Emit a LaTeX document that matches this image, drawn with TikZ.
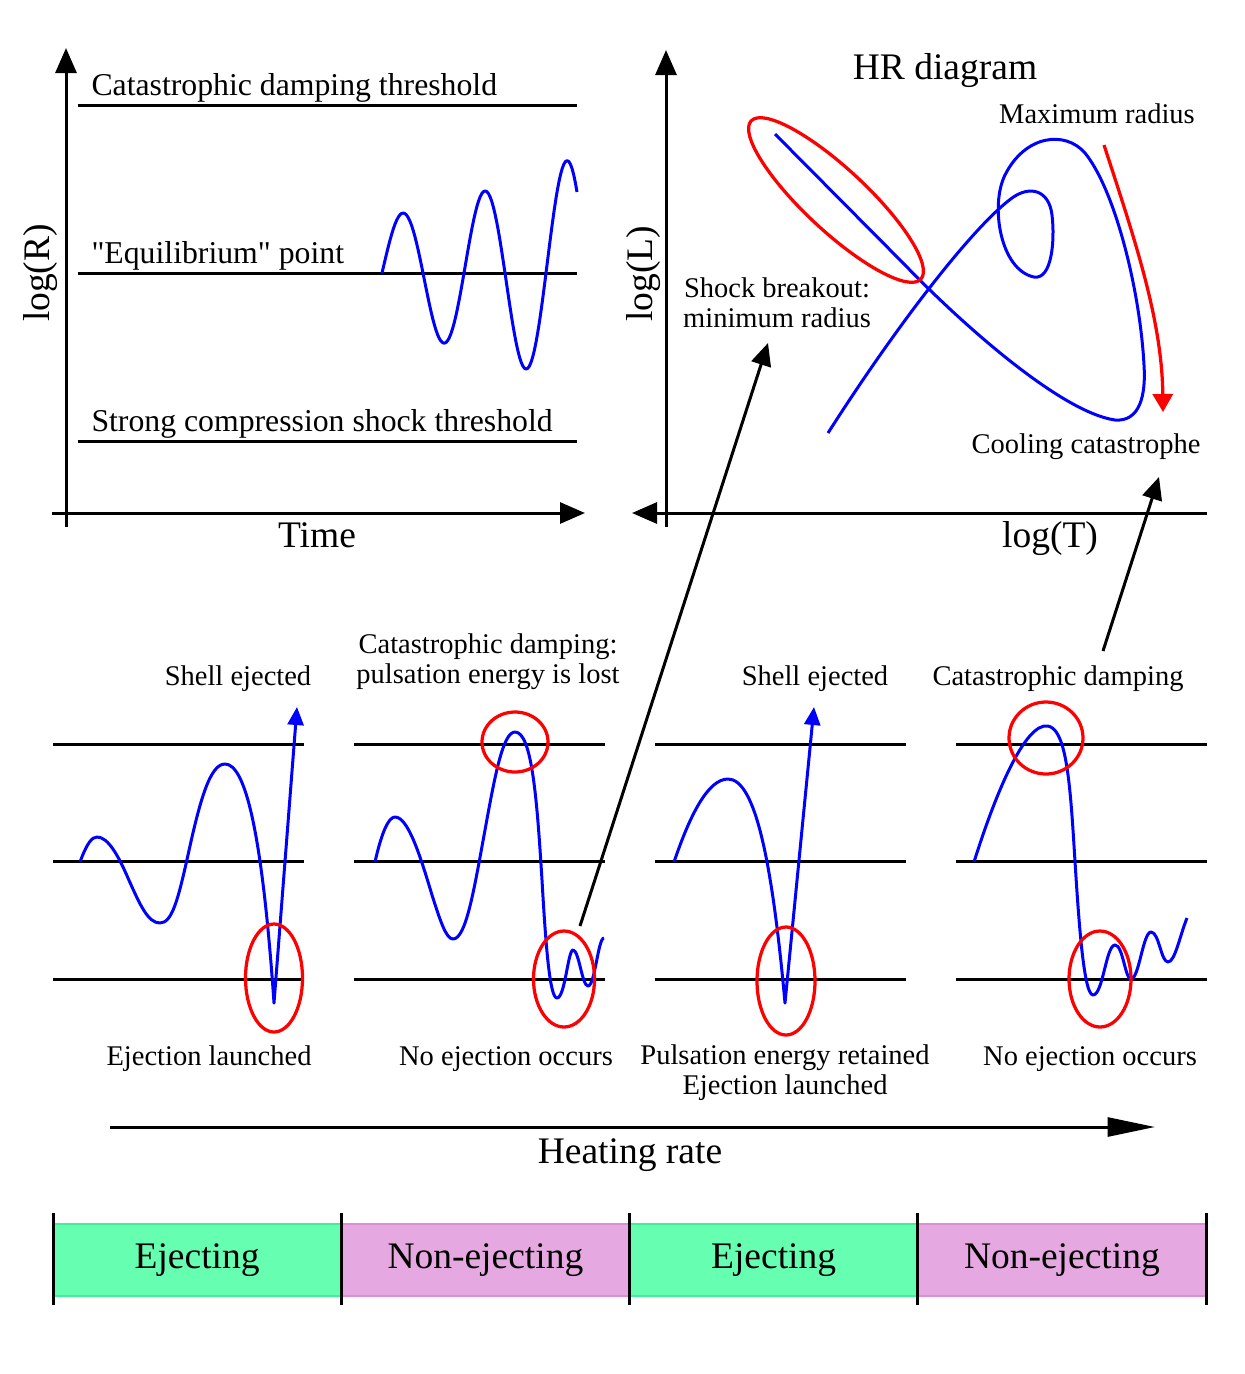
\documentclass[tikz,border=0pt]{standalone}
\usepackage{fontspec}
\setmainfont{Liberation Serif}
\usepackage{tikz}
\usetikzlibrary{shapes, arrows.meta, calc, positioning}

\definecolor{ejgreen}{RGB}{102,255,178}
\definecolor{ejgreenline}{RGB}{64,240,150}
\definecolor{nonpink}{RGB}{230,168,224}
\definecolor{nonpinkline}{RGB}{222,140,214}

\begin{document}
\begin{tikzpicture}[x=0.4pt,y=-0.4pt,line width=1.2pt]
    \tikzstyle{axis}=[-{Triangle[length=10pt,width=8.4pt]}]
    \tikzstyle{wave}=[blue,line join=round]
    \tikzstyle{shot}=[blue,line join=round,-{Triangle[length=7.2pt,width=6.4pt]}]
    \tikzstyle{ring}=[red,line width=1.3pt]
    \tikzstyle{link}=[-{Triangle[length=9pt,width=8pt]}]
    \tikzstyle{lbl}=[inner sep=0pt,align=center,anchor=base,font=\fontsize{11.4}{11.8}\selectfont]
    \tikzstyle{midlbl}=[inner sep=0pt,anchor=base west,font=\fontsize{12.7}{15}\selectfont]
    \tikzstyle{biglbl}=[inner sep=0pt,anchor=base,font=\fontsize{15}{18}\selectfont]
    \tikzstyle{cell}=[minimum width=115.3pt,minimum height=28.8pt,line width=0.8pt,font=\fontsize{15}{18}\selectfont]

    \useasboundingbox (0,0) rectangle (1245,1374);

    % log(R) against time
    \draw[axis] (66,527) -- (66,48);
    \draw[axis] (52,513) -- (585,513);
    \foreach \ly in {105,273,441}
        \draw (78,\ly) -- (577,\ly);
    \node[midlbl] (catthr) at (90,95) {Catastrophic damping threshold};
    \node[midlbl] (eqpt) at (90,263) {\textquotedbl Equilibrium\textquotedbl{} point};
    \node[midlbl] (shockthr) at (90,431) {Strong compression shock threshold};
    \node[biglbl] (timelbl) at (317,547) {Time};
    \node[biglbl,rotate=90] (logr) at (49,273) {log(R)};
    \draw[wave] plot[domain=382:577,samples=120]
        (\x,{273-60*exp(0.00383*(\x-403))*sin(4.39024*(\x-382))});

    % HR diagram
    \draw[axis] (666,527) -- (666,50);
    \draw[axis] (1207,513) -- (632,513);
    \node[biglbl] (hrtitle) at (945,79) {HR diagram};
    \node[biglbl] (logt) at (1050,547) {log(T)};
    \node[biglbl,rotate=90] (logl) at (652,274) {log(L)};
    \node[lbl] (maxrad) at (1097,123) {Maximum radius};
    \node[lbl] (shockbo) at (777,327) {Shock breakout:\\minimum radius};
    \node[lbl] (coolcat) at (1086,453) {Cooling catastrophe};
    \draw[wave] (775,134) -- (905,265)
        .. controls (960,322) and (1060,412) .. (1115,420)
        .. controls (1140,422) and (1146,395) .. (1144,365)
        .. controls (1140,290) and (1115,190) .. (1085,153)
        .. controls (1065,130) and (1025,135) .. (1005,175)
        .. controls (990,205) and (1000,270) .. (1034,277)
        .. controls (1052,280) and (1055,240) .. (1052,215)
        .. controls (1049,190) and (1030,185) .. (1012,198)
        .. controls (975,225) and (900,320) .. (828,433);
    \draw[ring, rotate around={-43:(836,200)}] (836,200) ellipse [x radius=116, y radius=31];
    \draw[red,line width=1.3pt,-{Triangle[length=7.2pt,width=8pt]}]
        (1104,145) .. controls (1135,240) and (1162,320) .. (1163,412);

    % four runs
    \foreach \px in {53,354,655,956}
        \foreach \ly in {744,861,979}
            \draw (\px,\ly) -- ++(251,0);

    \draw[shot] (80,862) .. controls (87,843) and (92,837) .. (97,837)
        .. controls (108,837) and (118,855) .. (128,878)
        .. controls (140,905) and (148,923) .. (160,923)
        .. controls (172,923) and (178,900) .. (188,855)
        .. controls (200,800) and (210,764) .. (225,764)
        .. controls (245,764) and (262,830) .. (274,1003) -- (297,707);
    \draw[ring] (274,978) ellipse [x radius=28.5, y radius=54];

    \draw[wave] (375,862) .. controls (381,835) and (388,817) .. (395,817)
        .. controls (408,817) and (420,855) .. (432,895)
        .. controls (440,920) and (446,939) .. (453,939)
        .. controls (466,939) and (474,890) .. (485,830)
        .. controls (495,775) and (503,732) .. (515,732)
        .. controls (532,732) and (537,800) .. (542,880)
        .. controls (546,950) and (550,998) .. (557,998)
        .. controls (565,998) and (568,950) .. (573,950)
        .. controls (579,950) and (582,986) .. (588,986)
        .. controls (595,986) and (598,938) .. (604,938);
    \draw[ring] (515,742) ellipse [x radius=33, y radius=30];
    \draw[ring] (564,979) ellipse [x radius=30.5, y radius=48];

    \draw[shot] (674,862) .. controls (690,815) and (708,779) .. (728,779)
        .. controls (755,779) and (772,860) .. (785,1003) -- (814,707);
    \draw[ring] (786,981) ellipse [x radius=29, y radius=54];

    \draw[wave] (974,862) .. controls (995,795) and (1025,722) .. (1048,726)
        .. controls (1064,729) and (1069,770) .. (1073,830)
        .. controls (1077,890) and (1082,995) .. (1093,995)
        .. controls (1103,995) and (1106,945) .. (1115,945)
        .. controls (1123,945) and (1125,979) .. (1131,979)
        .. controls (1139,979) and (1143,932) .. (1151,932)
        .. controls (1159,932) and (1161,962) .. (1168,962)
        .. controls (1175,962) and (1180,935) .. (1187,918);
    \draw[ring] (1046,738) ellipse [x radius=37, y radius=36];
    \draw[ring] (1100,979) ellipse [x radius=31, y radius=48];

    \node[lbl] (shell1) at (238,685) {Shell ejected};
    \node[lbl] (catdamp1) at (488,683) {Catastrophic damping:\\pulsation energy is lost};
    \node[lbl] (shell2) at (815,685) {Shell ejected};
    \node[lbl] (catdamp2) at (1058,685) {Catastrophic damping};
    \node[lbl] (eject1) at (209,1065) {Ejection launched};
    \node[lbl] (noeject1) at (506,1065) {No ejection occurs};
    \node[lbl] (retained) at (785,1094) {Pulsation energy retained\\Ejection launched};
    \node[lbl] (noeject2) at (1090,1065) {No ejection occurs};

    % links up to the HR diagram
    \coordinate (dampout) at (580,926);
    \coordinate (shockin) at (768,343);
    \coordinate (catout) at (1103,651);
    \coordinate (coolin) at (1159,477);
    \draw[link] (dampout) -- (shockin);
    \draw[link] (catout) -- (coolin);

    % heating rate
    \draw[-{Triangle[length=19pt,width=7.6pt]}] (110,1127) -- (1155,1127);
    \node[biglbl] (heatlbl) at (630,1163) {Heating rate};

    \node[cell,fill=ejgreen,draw=ejgreenline] (ej1) at (197.1,1260) {Ejecting};
    \node[cell,fill=nonpink,draw=nonpinkline] (non1) at (485.4,1260) {Non-ejecting};
    \node[cell,fill=ejgreen,draw=ejgreenline] (ej2) at (773.6,1260) {Ejecting};
    \node[cell,fill=nonpink,draw=nonpinkline] (non2) at (1061.9,1260) {Non-ejecting};
    \foreach \vx in {53,341.25,629.5,917.75,1206}
        \draw (\vx,1213) -- (\vx,1305);
\end{tikzpicture}
\end{document}
